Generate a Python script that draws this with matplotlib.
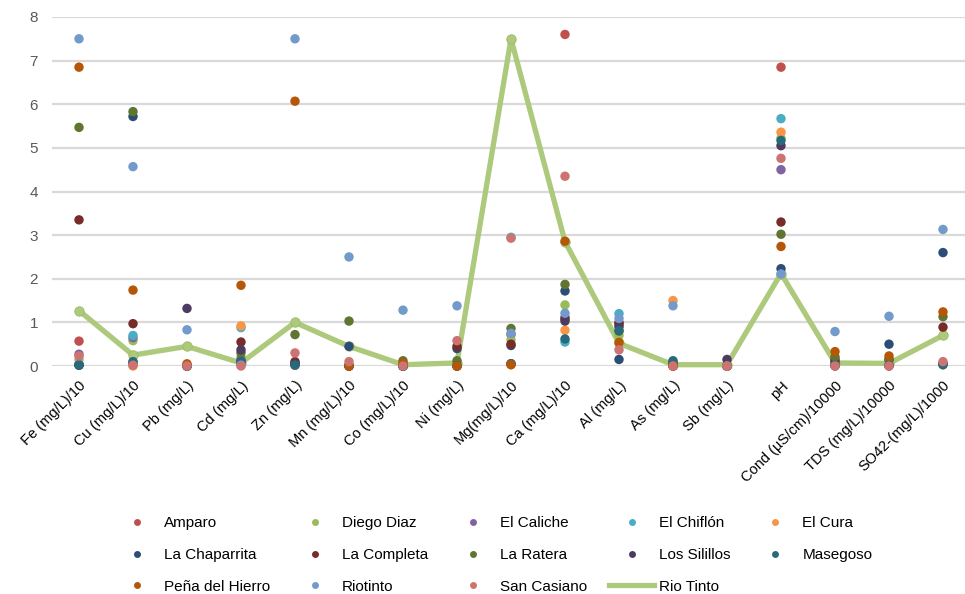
import matplotlib.pyplot as plt
from matplotlib.lines import Line2D

plt.rcParams['font.family'] = ['Liberation Sans', 'DejaVu Sans']

# categorias del eje X
parametros = ["Fe (mg/L)/10", "Cu (mg/L)/10", "Pb (mg/L)", "Cd (mg/L)", "Zn (mg/L)",
              "Mn (mg/L)/10", "Co (mg/L)/10", "Ni (mg/L)", "Mg(mg/L)/10", "Ca (mg/L)/10",
              "Al (mg/L)", "As (mg/L)", "Sb (mg/L)", "pH", "Cond (µS/cm)/10000",
              "TDS (mg/L)/10000", "SO42-(mg/L)/1000"]

# valores de cada punto de muestreo
amparo = [0.57, 0.02, 0.0, 0.05, 0.02, 0.0, 0.0, 0.0, 0.72, 7.6, 0.95, 0.0, 0.0, 6.85, 0.02, 0.02, 0.05]
diegoDiaz = [0.15, 0.58, 0.0, 0.2, 0.05, 0.0, 0.0, 0.05, 0.6, 1.4, 0.7, 0.02, 0.0, 5.22, 0.05, 0.02, 0.05]
elCaliche = [0.27, 0.65, 0.0, 0.15, 0.05, 0.0, 0.0, 0.0, 0.05, 1.12, 1.0, 0.0, 0.0, 4.5, 0.02, 0.02, 0.05]
elChiflon = [0.05, 0.7, 0.0, 0.88, 0.02, 0.0, 0.0, 0.0, 2.95, 0.55, 1.2, 0.1, 0.0, 5.67, 0.02, 0.02, 0.03]
elCura = [0.03, 0.0, 0.0, 0.92, 0.02, 0.0, 0.0, 0.0, 0.03, 0.82, 0.95, 1.5, 0.0, 5.36, 0.02, 0.02, 0.03]
laChaparrita = [0.02, 5.72, 0.0, 0.1, 0.05, 0.45, 0.0, 0.4, 0.47, 1.72, 0.15, 0.05, 0.0, 2.23, 0.1, 0.5, 2.6]
laCompleta = [3.35, 0.97, 0.0, 0.55, 0.1, 0.0, 0.0, 0.45, 0.5, 1.08, 0.98, 0.05, 0.0, 3.3, 0.15, 0.15, 0.89]
laRatera = [5.47, 5.83, 0.0, 0.3, 0.72, 1.03, 0.12, 0.12, 0.86, 1.87, 0.8, 0.05, 0.0, 3.02, 0.21, 0.15, 1.13]
losSilillos = [0.02, 0.08, 1.32, 0.37, 0.05, 0.0, 0.0, 0.0, 0.05, 1.03, 0.9, 0.0, 0.15, 5.05, 0.0, 0.0, 0.05]
masegoso = [0.02, 0.1, 0.0, 0.1, 0.02, 0.02, 0.0, 0.0, 0.05, 0.62, 0.81, 0.12, 0.0, 5.17, 0.02, 0.02, 0.03]
penaHierro = [6.85, 1.74, 0.05, 1.85, 6.07, 0.0, 0.07, 0.0, 0.03, 2.86, 0.54, 0.0, 0.0, 2.74, 0.33, 0.23, 1.24]
riotinto = [7.5, 4.57, 0.83, 0.02, 7.5, 2.5, 1.28, 1.38, 0.75, 1.21, 1.09, 1.38, 0.0, 2.11, 0.79, 1.14, 3.13]
sanCasiano = [0.23, 0.02, 0.0, 0.0, 0.3, 0.1, 0.0, 0.58, 2.93, 4.35, 0.37, 0.0, 0.0, 4.76, 0.0, 0.0, 0.1]
rioTinto = [1.27, 0.25, 0.45, 0.07, 1.0, 0.45, 0.03, 0.07, 7.5, 2.85, 0.52, 0.03, 0.03, 2.12, 0.07, 0.06, 0.7]

nombres = ["Amparo", "Diego Diaz", "El Caliche", "El Chiflón", "El Cura", "La Chaparrita",
           "La Completa", "La Ratera", "Los Silillos", "Masegoso", "Peña del Hierro",
           "Riotinto", "San Casiano"]
series = [amparo, diegoDiaz, elCaliche, elChiflon, elCura, laChaparrita, laCompleta,
          laRatera, losSilillos, masegoso, penaHierro, riotinto, sanCasiano]
colores = ["#C0504D", "#9BBB59", "#8064A2", "#4BACC6", "#F79646", "#2C4D75", "#772C2A",
           "#5F7530", "#4D3B62", "#276A7C", "#B65708", "#729ACA", "#CD7371"]
colorLinea = "#ADC97B"

#1. figura y ejes
fig = plt.figure(figsize=(9.65, 5.94), dpi=100)
ax = fig.add_axes([52/965, 228/594, 913/965, 349/594])

x = list(range(len(parametros)))

#2. linea de Rio Tinto (debajo de los puntos)
ax.plot(x, rioTinto, color=colorLinea, linewidth=3.8, marker='o', markersize=6.8,
        markerfacecolor=colorLinea, markeredgecolor="#9DBB6A", markeredgewidth=0.6,
        zorder=2, clip_on=False)

#3. puntos de cada sitio
handles = []
for nombre, valores, c in zip(nombres, series, colores):
    ax.scatter(x, valores, s=46, color=c, edgecolors='none', zorder=3, clip_on=False)
    handles.append(Line2D([], [], linestyle='none', marker='o', markersize=5,
                          markerfacecolor=c, markeredgecolor='none', label=nombre))
handles.append(Line2D([], [], color=colorLinea, linewidth=3.8, label="Rio Tinto"))

#4. ejes y grid
ax.set_xlim(-0.5, -0.5 + 913/54)
ax.set_ylim(0, 8)
ax.set_yticks(range(0, 9))
ax.yaxis.grid(True, color="#D9D9D9", linewidth=1.6)
ax.set_axisbelow(True)
for s in ax.spines.values():
    s.set_visible(False)
ax.tick_params(axis='both', length=0, labelsize=11, labelcolor="#595959")
ax.tick_params(axis='y', pad=10)
ax.set_xticks(x)
ax.set_xticklabels(parametros, rotation=45, ha='right', rotation_mode='anchor', color="black")
ax.tick_params(axis='x', pad=9, labelcolor="black", labelsize=10.5)

#5. leyenda: reordenar para que se llene por filas
orden = [0, 5, 10, 1, 6, 11, 2, 7, 12, 3, 8, 13, 4, 9]
fig.legend([handles[i] for i in orden], [handles[i].get_label() for i in orden],
           loc='center', bbox_to_anchor=(493/965, 1 - 555/594), ncol=5, frameon=False,
           fontsize=11, handlelength=3.0, handletextpad=0.3, columnspacing=1.4,
           labelspacing=1.15)

#6. guardar
plt.savefig("out.png", dpi=100)
